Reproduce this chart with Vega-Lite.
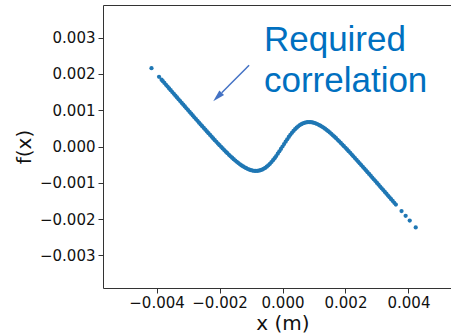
{
  "$schema": "https://vega.github.io/schema/vega-lite/v6.json",
  "autosize": "none",
  "width": 359,
  "height": 283,
  "padding": {"left": 103, "top": 5, "right": 0, "bottom": 46},
  "background": "white",
  "config": {
    "view": {"stroke": "#333333", "strokeWidth": 1},
    "axis": {
      "grid": false,
      "domain": false,
      "tickColor": "#333333",
      "tickSize": 5,
      "labelFont": "DejaVu Sans",
      "labelFontSize": 15,
      "labelColor": "#111111",
      "titleFont": "DejaVu Sans",
      "titleFontSize": 20,
      "titleFontWeight": "normal",
      "titleColor": "#111111"
    }
  },
  "datasets": {
    "curve": [
      {"x": -0.00416, "y": 0.00216}, {"x": -0.00392, "y": 0.00192}, {"x": -0.00384, "y": 0.00184},
      {"x": -0.0038, "y": 0.0018005}, {"x": -0.00375, "y": 0.0017505}, {"x": -0.0037, "y": 0.0017006}, {"x": -0.00365, "y": 0.0016507},
      {"x": -0.0036, "y": 0.0016008}, {"x": -0.00355, "y": 0.0015509}, {"x": -0.0035, "y": 0.001501}, {"x": -0.00345, "y": 0.0014512},
      {"x": -0.0034, "y": 0.0014014}, {"x": -0.00335, "y": 0.0013516}, {"x": -0.0033, "y": 0.0013018}, {"x": -0.00325, "y": 0.001252},
      {"x": -0.0032, "y": 0.0012022}, {"x": -0.00315, "y": 0.0011525}, {"x": -0.0031, "y": 0.0011028}, {"x": -0.00305, "y": 0.0010531},
      {"x": -0.003, "y": 0.0010034}, {"x": -0.00295, "y": 0.0009538}, {"x": -0.0029, "y": 0.0009042}, {"x": -0.00285, "y": 0.0008548},
      {"x": -0.0028, "y": 0.0008054}, {"x": -0.00275, "y": 0.0007562}, {"x": -0.0027, "y": 0.000707}, {"x": -0.00265, "y": 0.0006578},
      {"x": -0.0026, "y": 0.0006088}, {"x": -0.00255, "y": 0.00056}, {"x": -0.0025, "y": 0.0005112}, {"x": -0.00245, "y": 0.0004626},
      {"x": -0.0024, "y": 0.000414}, {"x": -0.00235, "y": 0.0003658}, {"x": -0.0023, "y": 0.0003178}, {"x": -0.00225, "y": 0.00027},
      {"x": -0.0022, "y": 0.0002224}, {"x": -0.00215, "y": 0.0001753}, {"x": -0.0021, "y": 0.0001284}, {"x": -0.00205, "y": 0.0000819},
      {"x": -0.002, "y": 0.000036}, {"x": -0.00195, "y": -0.0000097}, {"x": -0.0019, "y": -0.0000546}, {"x": -0.00185, "y": -0.0000992},
      {"x": -0.0018, "y": -0.0001428}, {"x": -0.00175, "y": -0.0001858}, {"x": -0.0017, "y": -0.000228}, {"x": -0.00165, "y": -0.0002692},
      {"x": -0.0016, "y": -0.0003096}, {"x": -0.00155, "y": -0.0003484}, {"x": -0.0015, "y": -0.0003864}, {"x": -0.00145, "y": -0.0004226},
      {"x": -0.0014, "y": -0.000457}, {"x": -0.00135, "y": -0.0004898}, {"x": -0.0013, "y": -0.0005208}, {"x": -0.00125, "y": -0.0005492},
      {"x": -0.0012, "y": -0.0005752}, {"x": -0.00115, "y": -0.0005992}, {"x": -0.0011, "y": -0.0006202}, {"x": -0.00105, "y": -0.000638},
      {"x": -0.001, "y": -0.0006524}, {"x": -0.00095, "y": -0.0006632}, {"x": -0.0009, "y": -0.0006702}, {"x": -0.00085, "y": -0.0006732},
      {"x": -0.0008, "y": -0.0006712}, {"x": -0.00075, "y": -0.000665}, {"x": -0.0007, "y": -0.000654}, {"x": -0.00065, "y": -0.0006378},
      {"x": -0.0006, "y": -0.0006162}, {"x": -0.00055, "y": -0.0005894}, {"x": -0.0005, "y": -0.000557}, {"x": -0.00045, "y": -0.0005198},
      {"x": -0.0004, "y": -0.000477}, {"x": -0.00035, "y": -0.00043}, {"x": -0.0003, "y": -0.000378}, {"x": -0.00025, "y": -0.0003218},
      {"x": -0.0002, "y": -0.0002622}, {"x": -0.00015, "y": -0.0001994}, {"x": -0.0001, "y": -0.0001342}, {"x": -0.00005, "y": -0.0000675},
      {"x": 0, "y": 0},
      {"x": 0.00005, "y": 0.0000675}, {"x": 0.0001, "y": 0.0001342}, {"x": 0.00015, "y": 0.0001994}, {"x": 0.0002, "y": 0.0002622},
      {"x": 0.00025, "y": 0.0003218}, {"x": 0.0003, "y": 0.000378}, {"x": 0.00035, "y": 0.00043}, {"x": 0.0004, "y": 0.000477},
      {"x": 0.00045, "y": 0.0005198}, {"x": 0.0005, "y": 0.000557}, {"x": 0.00055, "y": 0.0005894}, {"x": 0.0006, "y": 0.0006162},
      {"x": 0.00065, "y": 0.0006378}, {"x": 0.0007, "y": 0.000654}, {"x": 0.00075, "y": 0.000665}, {"x": 0.0008, "y": 0.0006712},
      {"x": 0.00085, "y": 0.0006732}, {"x": 0.0009, "y": 0.0006702}, {"x": 0.00095, "y": 0.0006632}, {"x": 0.001, "y": 0.0006524},
      {"x": 0.00105, "y": 0.000638}, {"x": 0.0011, "y": 0.0006202}, {"x": 0.00115, "y": 0.0005992}, {"x": 0.0012, "y": 0.0005752},
      {"x": 0.00125, "y": 0.0005492}, {"x": 0.0013, "y": 0.0005208}, {"x": 0.00135, "y": 0.0004898}, {"x": 0.0014, "y": 0.000457},
      {"x": 0.00145, "y": 0.0004226}, {"x": 0.0015, "y": 0.0003864}, {"x": 0.00155, "y": 0.0003484}, {"x": 0.0016, "y": 0.0003096},
      {"x": 0.00165, "y": 0.0002692}, {"x": 0.0017, "y": 0.000228}, {"x": 0.00175, "y": 0.0001858}, {"x": 0.0018, "y": 0.0001428},
      {"x": 0.00185, "y": 0.0000992}, {"x": 0.0019, "y": 0.0000546}, {"x": 0.00195, "y": 0.0000097}, {"x": 0.002, "y": -0.000036},
      {"x": 0.00205, "y": -0.0000819}, {"x": 0.0021, "y": -0.0001284}, {"x": 0.00215, "y": -0.0001753}, {"x": 0.0022, "y": -0.0002224},
      {"x": 0.00225, "y": -0.00027}, {"x": 0.0023, "y": -0.0003178}, {"x": 0.00235, "y": -0.0003658}, {"x": 0.0024, "y": -0.000414},
      {"x": 0.00245, "y": -0.0004626}, {"x": 0.0025, "y": -0.0005112}, {"x": 0.00255, "y": -0.00056}, {"x": 0.0026, "y": -0.0006088},
      {"x": 0.00265, "y": -0.0006578}, {"x": 0.0027, "y": -0.000707}, {"x": 0.00275, "y": -0.0007562}, {"x": 0.0028, "y": -0.0008054},
      {"x": 0.00285, "y": -0.0008548}, {"x": 0.0029, "y": -0.0009042}, {"x": 0.00295, "y": -0.0009538}, {"x": 0.003, "y": -0.0010034},
      {"x": 0.00305, "y": -0.0010531}, {"x": 0.0031, "y": -0.0011028}, {"x": 0.00315, "y": -0.0011525}, {"x": 0.0032, "y": -0.0012022},
      {"x": 0.00325, "y": -0.001252}, {"x": 0.0033, "y": -0.0013018}, {"x": 0.00335, "y": -0.0013516}, {"x": 0.0034, "y": -0.0014014},
      {"x": 0.00345, "y": -0.0014512}, {"x": 0.0035, "y": -0.001501}, {"x": 0.00355, "y": -0.0015509}, {"x": 0.0036, "y": -0.0016008},
      {"x": 0.00378, "y": -0.00178}, {"x": 0.00391, "y": -0.00191}, {"x": 0.00404, "y": -0.00204}, {"x": 0.00423, "y": -0.00223}
    ],
    "arrow": [
      {"x": -0.00106, "y": 0.00224, "x2": -0.00193, "y2": 0.00148, "hx": -0.00205, "hy": 0.001377}
    ],
    "note": [
      {"x": -0.00059, "y": 0.002625, "label": "Required\ncorrelation"}
    ]
  },
  "layer": [
    {
      "data": {"name": "curve"},
      "mark": {"type": "point", "filled": true, "shape": "circle", "size": 18, "color": "#1f77b4", "opacity": 1},
      "encoding": {
        "x": {
          "field": "x", "type": "quantitative",
          "scale": {"domain": [-0.0057, 0.0057], "nice": false, "zero": false},
          "axis": {"values": [-0.004, -0.002, 0, 0.002, 0.004], "format": ".3f", "title": "x (m)", "labelPadding": 2, "titleY": 41, "titleBaseline": "alphabetic"}
        },
        "y": {
          "field": "y", "type": "quantitative",
          "scale": {"domain": [-0.0039, 0.0039], "nice": false, "zero": false},
          "axis": {"values": [-0.003, -0.002, -0.001, 0, 0.001, 0.002, 0.003], "format": ".3f", "title": "f(x)", "labelPadding": 3, "titleX": -79, "titleBaseline": "middle"}
        }
      }
    },
    {
      "data": {"name": "arrow"},
      "mark": {"type": "rule", "color": "#4472C4", "strokeWidth": 1.5},
      "encoding": {
        "x": {"field": "x", "type": "quantitative"},
        "y": {"field": "y", "type": "quantitative"},
        "x2": {"field": "x2"},
        "y2": {"field": "y2"}
      }
    },
    {
      "data": {"name": "arrow"},
      "mark": {"type": "point", "filled": true, "shape": "M0,-1L0.5,0.8L-0.5,0.8Z", "size": 178, "angle": 225, "color": "#4472C4", "opacity": 1},
      "encoding": {
        "x": {"field": "hx", "type": "quantitative"},
        "y": {"field": "hy", "type": "quantitative"}
      }
    },
    {
      "data": {"name": "note"},
      "mark": {"type": "text", "align": "left", "baseline": "alphabetic", "font": "Liberation Sans", "fontSize": 35, "lineHeight": 41, "lineBreak": "\n", "color": "#0070C0"},
      "encoding": {
        "x": {"field": "x", "type": "quantitative"},
        "y": {"field": "y", "type": "quantitative"},
        "text": {"field": "label"}
      }
    }
  ]
}
